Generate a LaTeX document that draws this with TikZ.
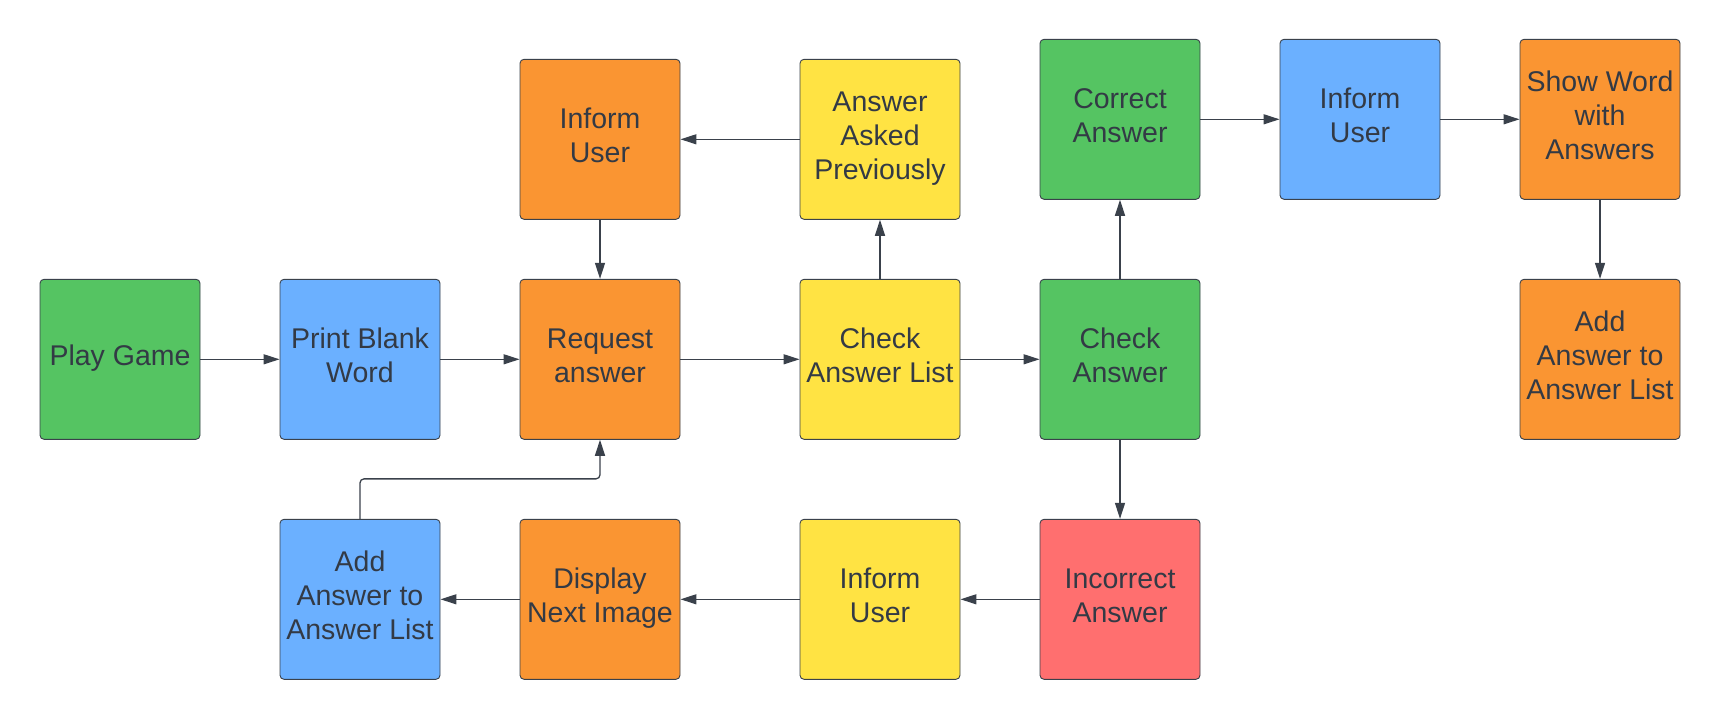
\documentclass[tikz,border=0pt]{standalone}
\usepackage{fontspec}
\setmainfont{Liberation Sans}
\usetikzlibrary{arrows.meta,positioning}

\definecolor{boxgreen}{HTML}{55C462}
\definecolor{boxblue}{HTML}{6BB0FF}
\definecolor{boxorange}{HTML}{FA9532}
\definecolor{boxyellow}{HTML}{FFE343}
\definecolor{boxred}{HTML}{FF6F6F}
\definecolor{edgegray}{HTML}{3A414B}
\definecolor{textgray}{HTML}{333A45}

\begin{document}
\begin{tikzpicture}[
    x=1pt, y=-1pt,
    stepbox/.style={draw=edgegray, line width=0.9pt, rounded corners=4pt, minimum width=160pt, minimum height=160pt, inner sep=2pt, text depth=8pt, align=center, text=textgray, font=\fontsize{28.5}{34}\selectfont},
    arr/.style={-{Triangle[length=16pt, width=10pt]}, line width=1.3pt, draw=edgegray}
]
\useasboundingbox (0,0) rectangle (1720,720);

% middle row
\node[stepbox, fill=boxgreen] (play) at (120,359.3) {Play Game};
\node[stepbox, fill=boxblue] (print) at (360,359.3) {Print Blank\\Word};
\node[stepbox, fill=boxorange] (request) at (600,359.3) {Request\\answer};
\node[stepbox, fill=boxyellow] (checklist) at (880,359.3) {Check\\Answer List};
\node[stepbox, fill=boxgreen] (check) at (1120,359.3) {Check\\Answer};
\node[stepbox, fill=boxorange] (addR) at (1600,359.3) {Add\\Answer to\\Answer List};

% top row
\node[stepbox, fill=boxorange] (informA) at (600,139.3) {Inform\\User};
\node[stepbox, fill=boxyellow] (asked) at (880,139.3) {Answer\\Asked\\Previously};
\node[stepbox, fill=boxgreen] (correct) at (1120,119.3) {Correct\\Answer};
\node[stepbox, fill=boxblue] (informB) at (1360,119.3) {Inform\\User};
\node[stepbox, fill=boxorange] (show) at (1600,119.3) {Show Word\\with\\Answers};

% bottom row
\node[stepbox, fill=boxblue] (addL) at (360,599.3) {Add\\Answer to\\Answer List};
\node[stepbox, fill=boxorange] (display) at (600,599.3) {Display\\Next Image};
\node[stepbox, fill=boxyellow] (informC) at (880,599.3) {Inform\\User};
\node[stepbox, fill=boxred] (incorrect) at (1120,599.3) {Incorrect\\Answer};

\draw[arr] (play) -- (print);
\draw[arr] (print) -- (request);
\draw[arr] (request) -- (checklist);
\draw[arr] (checklist) -- (check);
\draw[arr] (checklist) -- (asked);
\draw[arr] (asked) -- (informA);
\draw[arr] (informA) -- (request);
\draw[arr] (check) -- (correct);
\draw[arr] (check) -- (incorrect);
\draw[arr] (correct) -- (informB);
\draw[arr] (informB) -- (show);
\draw[arr] (show) -- (addR);
\draw[arr] (incorrect) -- (informC);
\draw[arr] (informC) -- (display);
\draw[arr] (display) -- (addL);
\draw[arr, rounded corners=4pt] (addL.north) -- ++(0,-40) -| (request.south);
\end{tikzpicture}
\end{document}
